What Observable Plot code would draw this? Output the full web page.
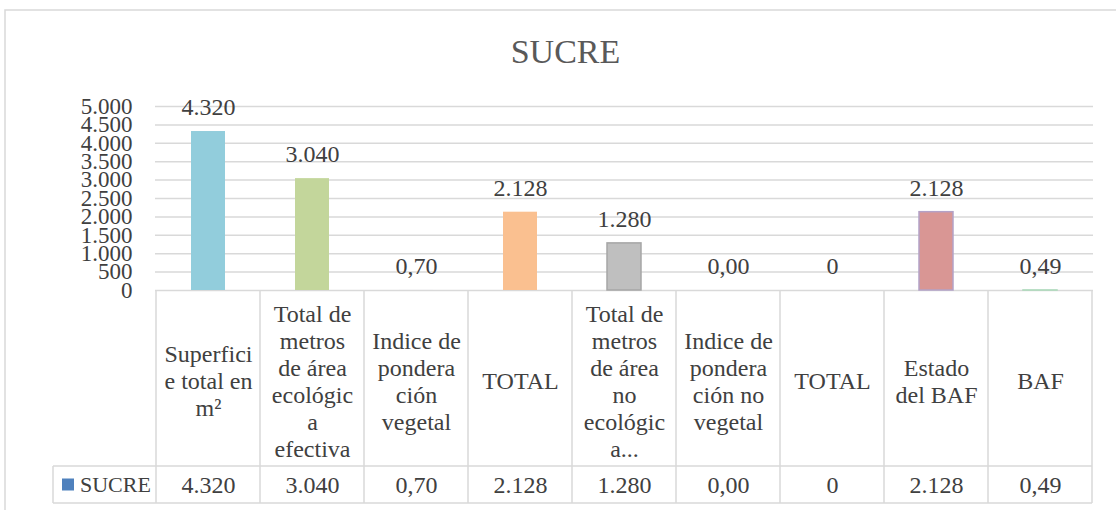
<!DOCTYPE html>
<html>
<head>
<meta charset="utf-8">
<script src="https://cdn.jsdelivr.net/npm/d3@7"></script>
<script src="https://cdn.jsdelivr.net/npm/@observablehq/plot@0.6"></script>
<style>
  html, body { margin: 0; padding: 0; background: #fff; }
</style>
</head>
<body>
<div id="chart"></div>
<script>
// ---- data ----
const chartTitle = "SUCRE";
const seriesName = "SUCRE";
const categories = [
  "Superfici\ne total en\nm²",
  "Total de\nmetros\nde área\necológic\na\nefectiva",
  "Indice de\npondera\nción\nvegetal",
  "TOTAL",
  "Total de\nmetros\nde área\nno\necológic\na...",
  "Indice de\npondera\nción no\nvegetal",
  "TOTAL",
  "Estado\ndel BAF",
  "BAF"
];
const values = [4320, 3040, 0.70, 2128, 1280, 0, 0, 2128, 0.49];
const valueLabels = ["4.320", "3.040", "0,70", "2.128", "1.280", "0,00", "0", "2.128", "0,49"];
const barFills = ["#92CDDC", "#C3D69B", "#B3A2C7", "#FAC090", "#BFBFBF", "#93CDDD", "#FAC090", "#D99694", "#C3D69B"];
const barStrokes = ["none", "none", "none", "none", "#A6A6A6", "none", "none", "#B3A2C7", "#A9D9B8"];
const yTicks = [0, 500, 1000, 1500, 2000, 2500, 3000, 3500, 4000, 4500, 5000];
const legendColor = "#4F81BD";

// ---- formatting ----
const esLocale = d3.formatLocale({decimal: ",", thousands: ".", grouping: [3], currency: ["", ""]});
const fmtTick = esLocale.format(",d");

const idx = d3.range(categories.length);
const lineColor = "#D9D9D9";
const textColor = "#404040";

// custom mark: data table grid, legend key, outer chart border
function tableMark(index, scales, channels, dimensions) {
  const {width, height, marginLeft, marginRight} = dimensions;
  const x = scales.x;
  const bw = x.bandwidth ? x.bandwidth() : (width - marginLeft - marginRight) / categories.length;
  const y0 = scales.y(0);
  const headerBottom = y0 + 176;
  const rowBottom = headerBottom + 37;
  const right = x(categories.length - 1) + bw;
  const legendLeft = 53;
  const g = d3.create("svg:g");
  // outer chart area border (top + left)
  g.append("path")
    .attr("d", `M5,${height}V10H${width}`)
    .attr("fill", "none").attr("stroke", lineColor).attr("stroke-width", 1.5);
  // vertical table lines
  for (let i = 0; i <= categories.length; i++) {
    const xx = i < categories.length ? x(i) : right;
    g.append("line")
      .attr("x1", xx).attr("x2", xx).attr("y1", y0).attr("y2", rowBottom)
      .attr("stroke", lineColor).attr("stroke-width", 1.5);
  }
  // legend cell left line
  g.append("line")
    .attr("x1", legendLeft).attr("x2", legendLeft).attr("y1", headerBottom).attr("y2", rowBottom)
    .attr("stroke", lineColor).attr("stroke-width", 1.5);
  // horizontal lines
  for (const yy of [headerBottom, rowBottom]) {
    g.append("line")
      .attr("x1", legendLeft).attr("x2", right).attr("y1", yy).attr("y2", yy)
      .attr("stroke", lineColor).attr("stroke-width", 1.5);
  }
  // legend key
  const rowMid = (headerBottom + rowBottom) / 2;
  g.append("rect")
    .attr("x", 62).attr("y", rowMid - 6).attr("width", 12).attr("height", 12)
    .attr("fill", legendColor);
  g.append("text")
    .attr("x", 80).attr("y", rowMid).attr("dy", "0.34em")
    .attr("text-anchor", "start")
    .attr("font-size", 22).attr("fill", textColor)
    .text(seriesName);
  return g.node();
}

const plot = Plot.plot({
  width: 1116,
  height: 510,
  marginTop: 106,
  marginBottom: 220,
  marginLeft: 155,
  marginRight: 23,
  style: {
    fontFamily: "'Liberation Serif', 'DejaVu Serif', serif",
    fontSize: "24px",
    color: textColor,
    background: "#fff",
    overflow: "visible"
  },
  x: {type: "band", domain: idx, padding: 0, axis: null},
  y: {domain: [0, 5000], axis: null},
  color: {type: "identity"},
  marks: [
    Plot.gridY(yTicks, {stroke: lineColor, strokeOpacity: 1, strokeWidth: 1.5}),
    Plot.axisY(yTicks, {tickSize: 0, tickPadding: 23, tickFormat: fmtTick, fontSize: 23, fill: textColor}),
    Plot.barY(idx, {
      x: i => i,
      y: i => values[i],
      fill: i => barFills[i],
      stroke: i => barStrokes[i],
      strokeWidth: 1.5,
      insetLeft: 35,
      insetRight: 35
    }),
    Plot.text(idx, {x: i => i, y: i => values[i], text: i => valueLabels[i], dy: -24, lineAnchor: "middle", fill: textColor}),
    tableMark,
    Plot.text(idx, {x: i => i, text: i => categories[i], frameAnchor: "bottom", lineAnchor: "middle", dy: 90, lineHeight: 1.125, fill: textColor}),
    Plot.text(idx, {x: i => i, text: i => valueLabels[i], frameAnchor: "bottom", lineAnchor: "middle", dy: 195, fill: textColor}),
    Plot.text([chartTitle], {frameAnchor: "top", lineAnchor: "middle", dx: -59, dy: -54, fontSize: 34, fill: "#595959"})
  ]
});

document.getElementById("chart").appendChild(plot);
</script>
</body>
</html>
